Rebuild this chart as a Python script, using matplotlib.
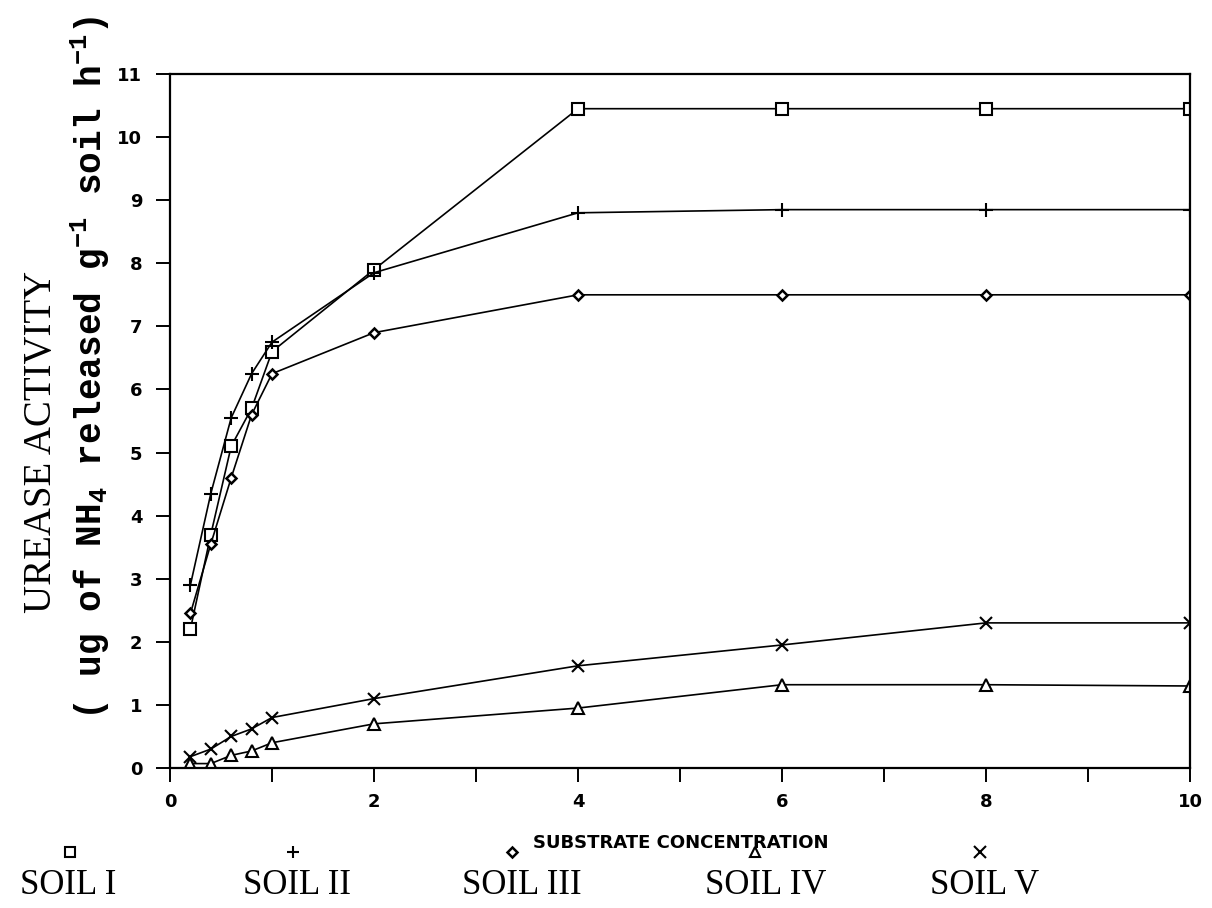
"""Urease activity vs substrate concentration for five soils."""

import matplotlib
matplotlib.use("Agg")
import matplotlib.pyplot as plt
from matplotlib.lines import Line2D

# data
conc = [0.2, 0.4, 0.6, 0.8, 1, 2, 4, 6, 8, 10]
soil_1 = [2.2, 3.7, 5.1, 5.7, 6.6, 7.9, 10.45, 10.45, 10.45, 10.45]
soil_2 = [2.9, 4.35, 5.55, 6.25, 6.75, 7.85, 8.8, 8.85, 8.85, 8.85]
soil_3 = [2.45, 3.55, 4.6, 5.6, 6.25, 6.9, 7.5, 7.5, 7.5, 7.5]
soil_4 = [0.07, 0.07, 0.2, 0.27, 0.4, 0.7, 0.95, 1.32, 1.32, 1.3]
soil_5 = [0.18, 0.3, 0.5, 0.62, 0.8, 1.1, 1.62, 1.95, 2.3, 2.3]

soil_names = ["SOIL I", "SOIL II", "SOIL III", "SOIL IV", "SOIL V"]
soil_markers = ["s", "+", "D", "^", "x"]

x_ticks = list(range(0, 11))
x_tick_labels = ["0", "", "2", "", "4", "", "6", "", "8", "", "10"]
y_ticks = list(range(0, 12))
y_tick_labels = [str(v) for v in y_ticks]

plt.rcParams["mathtext.fontset"] = "custom"
plt.rcParams["mathtext.rm"] = "Liberation Mono:bold"
plt.rcParams["mathtext.it"] = "Liberation Mono:bold"
plt.rcParams["mathtext.bf"] = "Liberation Mono:bold"
plt.rcParams["mathtext.default"] = "rm"

W, H = 1212, 908
fig = plt.figure(figsize=(W / 100, H / 100), dpi=100)
ax = fig.add_axes([170 / W, 1 - 768 / H, (1190 - 170) / W, (768 - 74) / H])

marker_style = {
    "s": dict(ms=8, mfc="white", mew=1.5),
    "+": dict(ms=10, mew=1.5),
    "D": dict(ms=5.5, mfc="white", mew=1.8),
    "^": dict(ms=8, mfc="white", mew=1.5),
    "x": dict(ms=9, mew=1.5),
}

series = [soil_1, soil_2, soil_3, soil_4, soil_5]
for vals, m in zip(series, soil_markers):
    ax.plot(conc, vals, color="black", lw=1.2, marker=m, mec="black",
            **marker_style[m])

ax.set_xlim(0, 10)
ax.set_ylim(0, 11)
ax.set_xticks(x_ticks)
ax.set_xticklabels(x_tick_labels)
ax.set_yticks(y_ticks)
ax.set_yticklabels(y_tick_labels)
ax.tick_params(direction="out", length=10, width=1.4, labelsize=13)
ax.tick_params(axis="y", pad=10)
ax.tick_params(axis="x", pad=8)
for lab in ax.get_xticklabels() + ax.get_yticklabels():
    lab.set_fontweight("bold")
for sp in ax.spines.values():
    sp.set_linewidth(1.6)

# axis titles
fig.text(42 / W, 1 - 442 / H, "UREASE ACTIVITY", rotation=90,
         ha="center", va="center", family="Liberation Serif", fontsize=28)
fig.text(90 / W, 1 - 368 / H,
         "( ug of NH$_4$ released g$^{-1}$ soil h$^{-1}$)", rotation=90,
         ha="center", va="center", family="Liberation Mono",
         fontweight="bold", fontsize=26)
fig.text(681 / W, 1 - 843 / H, "SUBSTRATE CONCENTRATION", ha="center",
         va="center", fontsize=13, fontweight="bold")

# legend written along the bottom, marker above the "I" of SOIL
legend_x = [20, 243, 462, 705, 930]
for x0, name, m in zip(legend_x, soil_names, soil_markers):
    fig.text(x0 / W, 1 - 894 / H, name, ha="left", va="baseline",
             family="Liberation Serif", fontsize=25)
    style = dict(marker_style[m])
    style["ms"] = style["ms"] * 0.9
    fig.add_artist(Line2D([(x0 + 50) / W], [1 - 852 / H], marker=m,
                          color="black", mec="black", lw=0,
                          transform=fig.transFigure, **style))

fig.savefig("out.png", dpi=100)
